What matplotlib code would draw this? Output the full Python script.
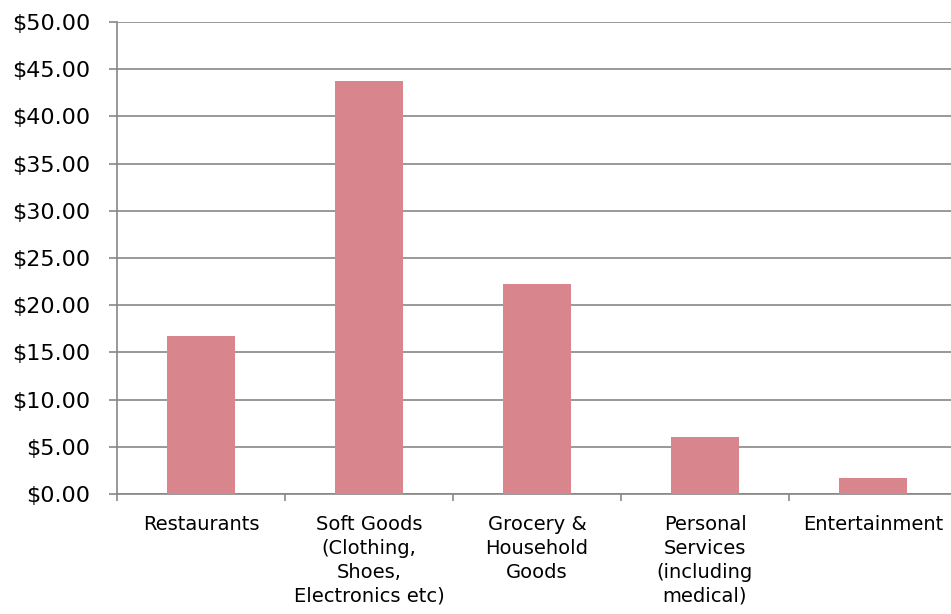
import matplotlib.pyplot as plt
import numpy as np

categories = ["Restaurants", "Soft Goods\n(Clothing,\nShoes,\nElectronics etc)",
              "Grocery &\nHousehold\nGoods", "Personal\nServices\n(including\nmedical)",
              "Entertainment"]
values = [16.7, 43.7, 22.2, 6.0, 1.7]
y_ticks = np.arange(0, 55, 5)

bar_color = "#D8858E"
grid_color = "#878787"

fig = plt.figure(figsize=(9.51, 6.14), dpi=100)
ax = fig.add_axes([117 / 951, 120 / 614, 840 / 951, 472 / 614])

x = np.arange(len(categories))
ax.bar(x, values, width=0.405, color=bar_color, zorder=3)

ax.set_xlim(-0.5, len(categories) - 0.5)
ax.set_ylim(0, 50)
ax.set_yticks(y_ticks)
ax.set_yticklabels(["$%.2f" % v for v in y_ticks])
ax.yaxis.grid(True, color=grid_color, linewidth=1.2, zorder=0)

ax.set_xticks(x)
ax.set_xticklabels(categories, linespacing=1.33, va="top")
ax.set_xticks(np.arange(-0.5, len(categories) + 0.5, 1), minor=True)
ax.tick_params(axis="x", which="major", length=0, pad=15, labelsize=14)
ax.tick_params(axis="x", which="minor", length=5, width=1.2, color=grid_color, direction="out")
ax.tick_params(axis="y", length=6, width=1.2, color=grid_color, direction="out", pad=13, labelsize=16)

for s in ["top", "right"]:
    ax.spines[s].set_visible(False)
for s in ["left", "bottom"]:
    ax.spines[s].set_color(grid_color)
    ax.spines[s].set_linewidth(1.2)

fig.savefig("out.png", dpi=100)
